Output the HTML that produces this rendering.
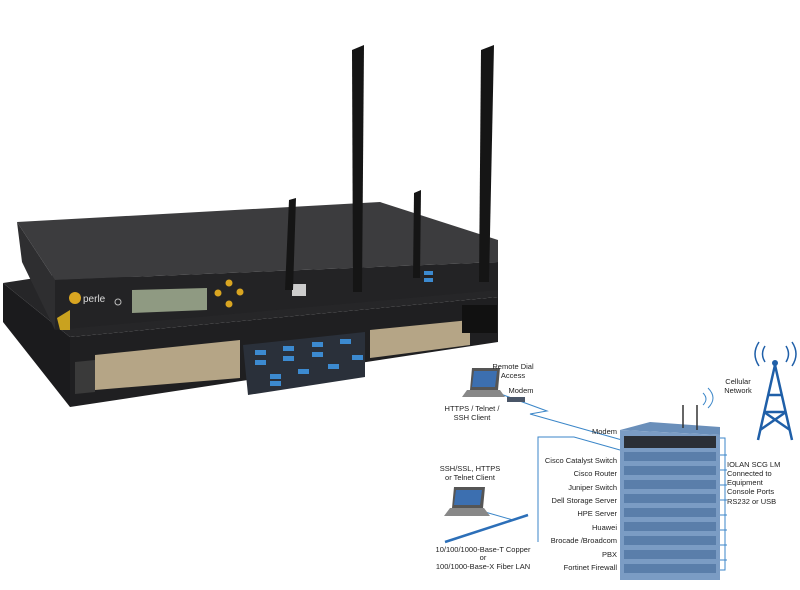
<!DOCTYPE html>
<html><head><meta charset="utf-8"><style>
html,body{margin:0;padding:0;background:#fff;}
svg{display:block;}
text{font-family:"Liberation Sans",sans-serif;fill:#222;}
</style></head><body>
<svg width="800" height="590" viewBox="0 0 800 590" xmlns="http://www.w3.org/2000/svg">
<!-- bottom unit -->
<polygon points="3,283 70,337 70,407 3,322" fill="#1b1b1d"/>
<polygon points="70,337 498,297 498,342 70,407" fill="#1f1f21"/>
<polygon points="3,283 55,275 498,285 498,297 70,337" fill="#262628"/>
<!-- ports bottom -->
<polygon points="75,362 95,360 95,392 75,394" fill="#3a3a3a"/>
<polygon points="95,355 240,340 240,378 95,390" fill="#b5a586"/>
<polygon points="243,345 365,332 365,377 248,395" fill="#2a303a"/>
<polygon points="370,330 470,320 470,345 370,358" fill="#b5a586"/>
<rect x="462" y="305" width="35" height="28" fill="#111"/>
<g fill="#3c8ad0">
<rect x="255" y="350" width="11" height="5"/><rect x="283" y="346" width="11" height="5"/><rect x="312" y="342" width="11" height="5"/><rect x="340" y="339" width="11" height="5"/>
<rect x="255" y="360" width="11" height="5"/><rect x="283" y="356" width="11" height="5"/><rect x="312" y="352" width="11" height="5"/><rect x="352" y="355" width="11" height="5"/>
<rect x="270" y="374" width="11" height="5"/><rect x="270" y="381" width="11" height="5"/><rect x="298" y="369" width="11" height="5"/><rect x="328" y="364" width="11" height="5"/>
</g>
<!-- top unit -->
<polygon points="17,222 55,280 55,330 22,262" fill="#2e2e30"/>
<polygon points="17,222 380,202 498,240 498,262 55,280" fill="#3c3c3e"/>
<polygon points="55,280 498,262 498,290 55,330" fill="#232325"/>
<polygon points="57,318 70,310 70,330 60,330" fill="#c9a21f"/>
<polygon points="132,290 207,288 207,310 132,313" fill="#8f9a82"/>
<circle cx="75" cy="298" r="6" fill="#d9a521"/>
<text x="83" y="302" font-size="10" style="fill:#ddd">perle</text>
<circle cx="118" cy="302" r="3" fill="none" stroke="#bbb"/>
<g fill="#d9a521"><circle cx="229" cy="283" r="3.5"/><circle cx="218" cy="293" r="3.5"/><circle cx="240" cy="292" r="3.5"/><circle cx="229" cy="304" r="3.5"/></g>
<rect x="292" y="284" width="14" height="12" fill="#ccc"/>
<rect x="424" y="271" width="9" height="4" fill="#3c8ad0"/><rect x="424" y="278" width="9" height="4" fill="#3c8ad0"/>
<!-- antennas -->
<polygon points="289,200 296,198 293,290 285,290" fill="#151515"/>
<polygon points="352,50 364,45 362,292 353,292" fill="#151515"/>
<polygon points="414,193 421,190 420,278 413,278" fill="#151515"/>
<polygon points="481,50 494,45 489,282 479,282" fill="#151515"/>
<!-- diagram lines -->
<g stroke="#3b86c8" stroke-width="1" fill="none">
<polyline points="498,393 547,411 530,414 622,440"/>
<polyline points="538,542 538,437 574,437 620,450"/>
<polyline points="485,512 513,520"/>
<polyline points="720,438 725,438 725,570 720,570"/>
<path d="M720,455 h7 M720,470 h7 M720,485 h7 M720,500 h7 M720,515 h7 M720,530 h7 M720,545 h7 M720,560 h7"/>
</g>
<line x1="445" y1="542" x2="528" y2="515" stroke="#2c6fb8" stroke-width="2.5"/>
<!-- laptops -->
<polygon points="472,368 500,368 498,390 470,390" fill="#555"/>
<polygon points="474,371 497,371 495,387 472,387" fill="#3c6fb0"/>
<polygon points="467,390 500,390 505,397 462,397" fill="#888"/>
<rect x="507" y="397" width="18" height="5" fill="#4a5668"/>
<polygon points="454,487 485,487 483,508 452,508" fill="#555"/>
<polygon points="456,490 482,490 480,505 454,505" fill="#3c6fb0"/>
<polygon points="450,508 484,508 490,516 444,516" fill="#888"/>
<!-- rack -->
<polygon points="620,430 650,422 720,427 720,435" fill="#6a8fba"/>
<polygon points="620,430 720,435 720,580 620,580" fill="#7b9cc4"/>
<rect x="624" y="436" width="92" height="12" fill="#2b2f36"/>
<g fill="#5a7eaa">
<rect x="624" y="452" width="92" height="9"/><rect x="624" y="466" width="92" height="9"/><rect x="624" y="480" width="92" height="9"/>
<rect x="624" y="494" width="92" height="9"/><rect x="624" y="508" width="92" height="9"/><rect x="624" y="522" width="92" height="9"/>
<rect x="624" y="536" width="92" height="9"/><rect x="624" y="550" width="92" height="9"/><rect x="624" y="564" width="92" height="9"/>
</g>
<line x1="683" y1="405" x2="683" y2="428" stroke="#333" stroke-width="1.5"/>
<line x1="697" y1="405" x2="697" y2="430" stroke="#333" stroke-width="1.5"/>
<path d="M703,405 q6,-6 0,-12 M708,408 q10,-10 0,-20" stroke="#3b86c8" fill="none"/>
<!-- tower -->
<g stroke="#1f5fa8" stroke-width="2.5" fill="none">
<polyline points="758,440 775,365 792,440"/>
<line x1="764" y1="412" x2="786" y2="412"/><line x1="768" y1="395" x2="782" y2="395"/>
<line x1="760" y1="430" x2="786" y2="412"/><line x1="790" y1="430" x2="764" y2="412"/>
<path d="M765,362 q-5,-8 0,-16 M786,362 q5,-8 0,-16 M759,366 q-8,-12 0,-24 M792,366 q8,-12 0,-24" stroke-width="1.5"/>
</g>
<circle cx="775" cy="363" r="3" fill="#1f5fa8"/>
<!-- labels -->
<g font-size="7.5">
<text x="513" y="369" text-anchor="middle">Remote Dial</text>
<text x="513" y="378" text-anchor="middle">Access</text>
<text x="521" y="393" text-anchor="middle">Modem</text>
<text x="472" y="411" text-anchor="middle">HTTPS / Telnet /</text>
<text x="472" y="420" text-anchor="middle">SSH Client</text>
<text x="470" y="471" text-anchor="middle">SSH/SSL, HTTPS</text>
<text x="470" y="480" text-anchor="middle">or Telnet Client</text>
<text x="483" y="552" text-anchor="middle">10/100/1000-Base-T Copper</text>
<text x="483" y="560" text-anchor="middle">or</text>
<text x="483" y="569" text-anchor="middle">100/1000-Base-X Fiber LAN</text>
<text x="738" y="384" text-anchor="middle">Cellular</text>
<text x="738" y="393" text-anchor="middle">Network</text>
<text x="727" y="467">IOLAN SCG LM</text>
<text x="727" y="476">Connected to</text>
<text x="727" y="485">Equipment</text>
<text x="727" y="494">Console Ports</text>
<text x="727" y="504">RS232 or USB</text>
<g text-anchor="end">
<text x="617" y="434">Modem</text>
<text x="617" y="463">Cisco Catalyst Switch</text>
<text x="617" y="476">Cisco Router</text>
<text x="617" y="490">Juniper Switch</text>
<text x="617" y="503">Dell Storage Server</text>
<text x="617" y="516">HPE Server</text>
<text x="617" y="530">Huawei</text>
<text x="617" y="543">Brocade /Broadcom</text>
<text x="617" y="557">PBX</text>
<text x="617" y="570">Fortinet Firewall</text>
</g>
</g>
</svg>
</body></html>
